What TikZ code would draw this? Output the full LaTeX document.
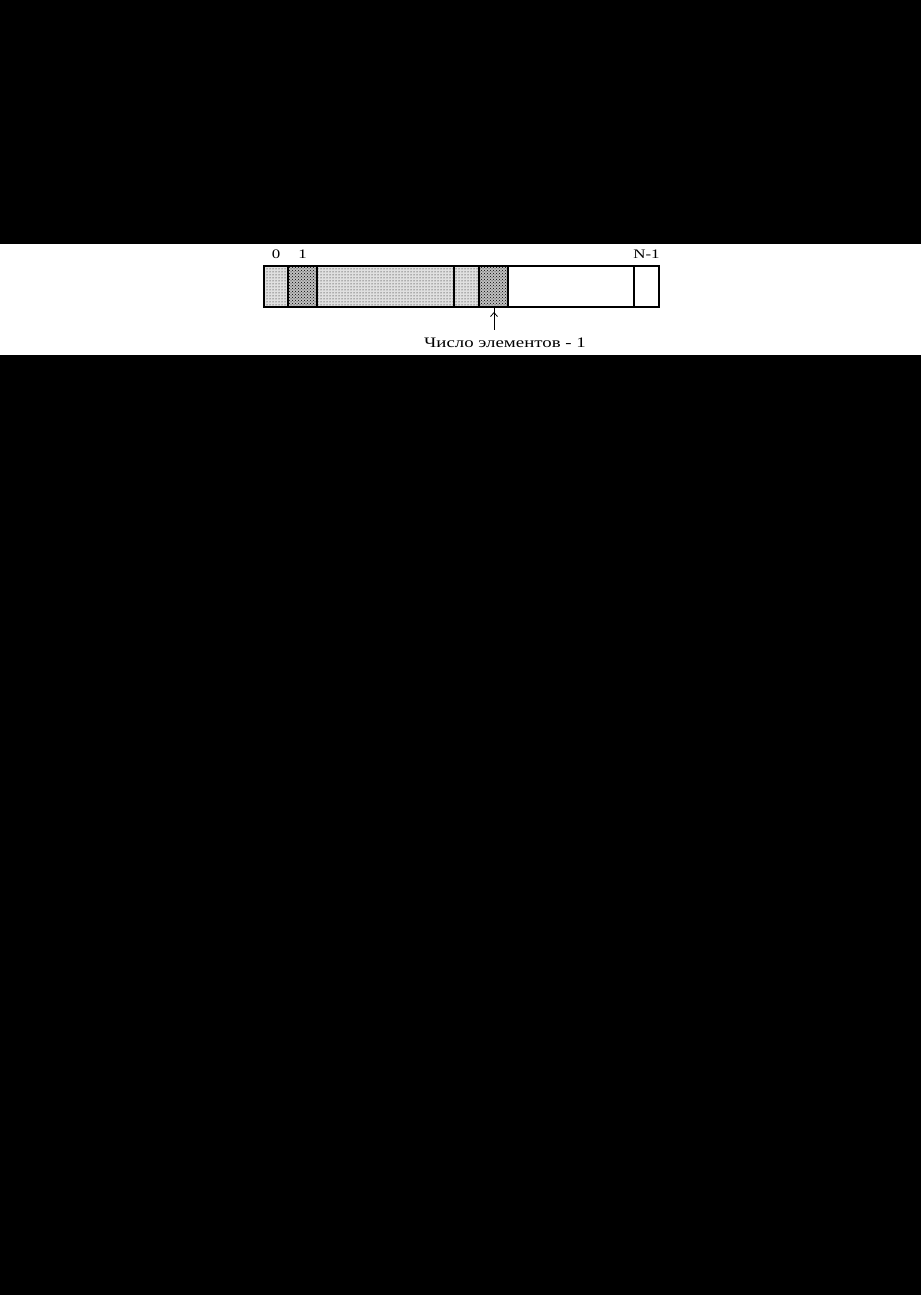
\documentclass[tikz,border=0pt]{standalone}
\usepackage{fontspec}
\setmainfont{Liberation Serif}
\newfontfamily\widefont{Liberation Serif}[FakeStretch=1.3]
\usetikzlibrary{arrows.meta,positioning,patterns}

\begin{document}
\begin{tikzpicture}[x=1pt, y=1pt,
    cell/.style={rectangle, draw, line width=1.2pt, minimum height=41pt,
        inner sep=0pt, outer sep=0pt, anchor=west},
    light/.style={cell, preaction={fill=black!12}, pattern=dots},
    dense/.style={cell, preaction={fill=black!25}, pattern=crosshatch dots},
    idx/.style={font=\widefont\fontsize{13}{13}\selectfont, inner sep=0pt},
    arr/.style={-{Straight Barb[length=4pt, width=7pt]}, line width=0.8pt}
]
    % page and white strip
    \fill[black] (0,0) rectangle (921,1295);
    \fill[white] (0,940) rectangle (921,1051);

    % array cells
    \node[light, minimum width=24pt] (cell0) at (264,1008.5) {};
    \node[dense, minimum width=29pt, right=0pt of cell0] (cell1) {};
    \node[light, minimum width=137pt, right=0pt of cell1] (mid) {};
    \node[light, minimum width=25pt, line width=0.6pt, right=0pt of mid] (prev) {};
    \node[dense, minimum width=29pt, right=0pt of prev] (lastel) {};
    \node[cell, minimum width=126pt, right=0pt of lastel] (free) {};
    \node[cell, minimum width=25pt, right=0pt of free] (cellN) {};
    \draw[line width=1.2pt] (cell0.north west) rectangle (cellN.south east);

    % indices
    \node[idx, above=7pt of cell0] (i0) {0};
    \node[idx, above=7pt of cell1] (i1) {1};
    \node[idx, above=7pt of cellN] (iN) {N-1};

    % count marker
    \coordinate (tail) at (494,965);
    \draw[arr] (tail) -- (tail |- lastel.south) ++(0,-5);
    \node[font=\widefont\fontsize{14.5}{14.5}\selectfont, inner sep=0pt] (count) at (505,952) {Число элементов - 1};
\end{tikzpicture}
\end{document}
